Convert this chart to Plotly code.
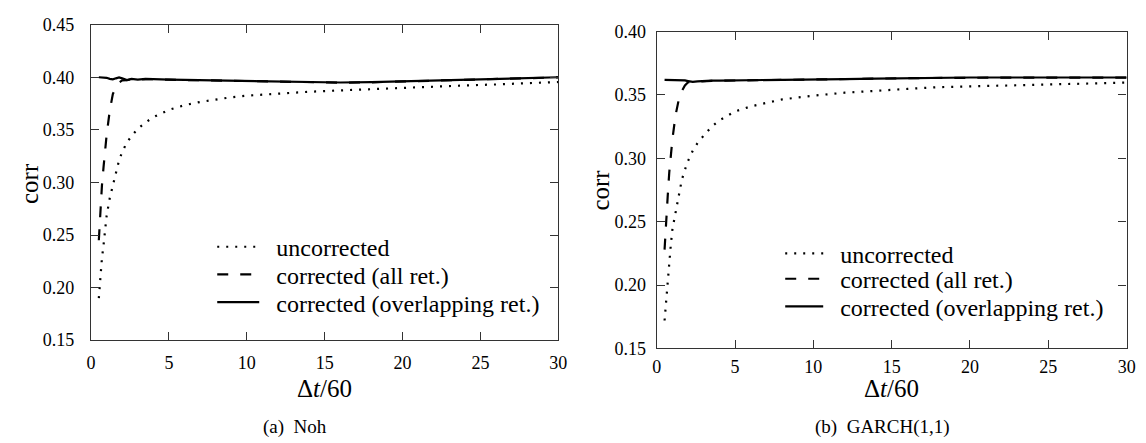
import plotly.graph_objects as go

# ---------------- data ----------------
x_dt = [0.5, 0.6, 0.7, 0.8, 0.9, 1.0, 1.2, 1.4, 1.6, 1.8, 2.0, 2.3, 2.6, 3.0, 3.5,
        4, 5, 6, 7, 8, 9, 10, 12, 14, 16, 18, 20, 22, 24, 26, 28, 30]

# (a) Noh
noh_uncorrected = [0.190, 0.212, 0.228, 0.240, 0.255, 0.268, 0.285, 0.298, 0.311, 0.321,
                   0.329, 0.338, 0.344, 0.351, 0.357, 0.362, 0.369, 0.3735, 0.3765, 0.379,
                   0.381, 0.3825, 0.3845, 0.3862, 0.3875, 0.3888, 0.3900, 0.3910, 0.3922,
                   0.3932, 0.3943, 0.3955]
noh_all_ret = [0.245, 0.275, 0.297, 0.314, 0.330, 0.345, 0.368, 0.384, 0.391, 0.395,
               0.397, 0.3972, 0.3982, 0.3976, 0.3983, 0.3979, 0.3977, 0.3974, 0.3971, 0.3969,
               0.3966, 0.3962, 0.3956, 0.3951, 0.3949, 0.3952, 0.3959, 0.3965, 0.3972,
               0.3979, 0.3989, 0.3999]
noh_overlap_ret = [0.4000, 0.4000, 0.4000, 0.4000, 0.4000, 0.3995, 0.3985, 0.3980, 0.3990,
                   0.3998, 0.3990, 0.3973, 0.3985, 0.3978, 0.3984, 0.3980, 0.3978, 0.3975,
                   0.3972, 0.3970, 0.3967, 0.3963, 0.3957, 0.3952, 0.3950, 0.3953, 0.3960,
                   0.3966, 0.3973, 0.3980, 0.3990, 0.4000]

# (b) GARCH(1,1)
garch_uncorrected = [0.172, 0.188, 0.206, 0.219, 0.232, 0.244, 0.258, 0.272, 0.283, 0.291,
                     0.298, 0.306, 0.312, 0.318, 0.325, 0.330, 0.337, 0.341, 0.344, 0.3465,
                     0.348, 0.3495, 0.3518, 0.3535, 0.3548, 0.3562, 0.3570, 0.3575, 0.3580,
                     0.3586, 0.3592, 0.3598]
garch_all_ret = [0.228, 0.254, 0.270, 0.289, 0.302, 0.315, 0.334, 0.346, 0.353, 0.3575,
                 0.3600, 0.3603, 0.3607, 0.3611, 0.3612, 0.3613, 0.3614, 0.3615, 0.3616,
                 0.3617, 0.3619, 0.3621, 0.3625, 0.3629, 0.3633, 0.3636, 0.3637, 0.3637,
                 0.3637, 0.3637, 0.3637, 0.3637]
garch_overlap_ret = [0.3620, 0.3620, 0.3620, 0.3620, 0.3620, 0.3620, 0.3620, 0.3620, 0.3618,
                     0.3615, 0.3610, 0.3603, 0.3608, 0.3612, 0.3613, 0.3614, 0.3615, 0.3616,
                     0.3617, 0.3618, 0.3620, 0.3622, 0.3626, 0.3630, 0.3634, 0.3637, 0.3638,
                     0.3638, 0.3638, 0.3638, 0.3638, 0.3638]

series_names = ["uncorrected", "corrected (all ret.)", "corrected (overlapping ret.)"]
x_ticks = [0, 5, 10, 15, 20, 25, 30]
noh_yticks = [0.15, 0.20, 0.25, 0.30, 0.35, 0.40, 0.45]
garch_yticks = [0.15, 0.20, 0.25, 0.30, 0.35, 0.40]

# ---------------- styling ----------------
W, H = 1146, 443
FONT = "Liberation Serif, Times New Roman, serif"
dashes = ["2px,7px", "11px,12px", "solid"]
pad = "\u2002"

fig = go.Figure()

left_legends = ["legend", "legend3", "legend4"]
right_legends = ["legend2", "legend5", "legend6"]


def add_panel(ys, xa, ya, legs):
    for y, name, d, lg in zip(ys, series_names, dashes, legs):
        fig.add_trace(go.Scatter(
            x=x_dt, y=y, mode="lines", name=pad + name,
            line=dict(color="black", width=2.2, dash=d),
            xaxis=xa, yaxis=ya, legend=lg, hoverinfo="skip"))


add_panel([noh_uncorrected, noh_all_ret, noh_overlap_ret], "x", "y", left_legends)
add_panel([garch_uncorrected, garch_all_ret, garch_overlap_ret], "x2", "y2", right_legends)

axis_common = dict(
    showline=True, linecolor="#333", linewidth=1.3, mirror="ticks",
    ticks="inside", ticklen=8, tickcolor="#333", tickwidth=1,
    showgrid=False, zeroline=False,
    tickfont=dict(family=FONT, size=18, color="black"),
)

L1, R1 = 79 / W, 552 / W
L2, R2 = 651.7 / W, 1127.4 / W
B1, T1 = 1 - 337.4 / H, 1 - 7 / H
B2, T2 = 1 - 346 / H, 1 - 14.3 / H


def legend_at(xpx, ypx, iw):
    return dict(x=xpx / W, y=1 - ypx / H, xanchor="left", yanchor="middle",
                bgcolor="rgba(0,0,0,0)", borderwidth=0, itemwidth=iw,
                font=dict(family=FONT, size=24, color="black"))


layout_legends = {}
for lg, row in zip(left_legends, [240, 269, 298]):
    layout_legends[lg] = legend_at(201.7, row, 42)
for lg, row in zip(right_legends, [247, 273.5, 302.5]):
    layout_legends[lg] = legend_at(776.7, row, 38)

fig.update_layout(
    width=W, height=H,
    margin=dict(l=0, r=0, t=0, b=0),
    paper_bgcolor="white", plot_bgcolor="white",
    xaxis=dict(domain=[L1, R1], range=[0, 30], tickvals=x_ticks,
               ticktext=[str(v) for v in x_ticks], anchor="y",
               ticklabelstandoff=6, **axis_common),
    yaxis=dict(domain=[B1, T1], range=[0.15, 0.45], tickvals=noh_yticks,
               ticktext=[f"{v:.2f}" for v in noh_yticks], anchor="x",
               ticklabelstandoff=12, **axis_common),
    xaxis2=dict(domain=[L2, R2], range=[0, 30], tickvals=x_ticks,
                ticktext=[str(v) for v in x_ticks], anchor="y2",
                ticklabelstandoff=2, **axis_common),
    yaxis2=dict(domain=[B2, T2], range=[0.15, 0.40], tickvals=garch_yticks,
                ticktext=[f"{v:.2f}" for v in garch_yticks], anchor="x2",
                ticklabelstandoff=6, **axis_common),
    showlegend=True,
    **layout_legends,
)

ann = dict(xref="paper", yref="paper", showarrow=False,
           font=dict(family=FONT, size=25, color="black"))
fig.add_annotation(text="\u0394<i>t</i>/60", x=315.5 / W, y=1 - 388 / H,
                   xanchor="center", yanchor="middle", **ann)
fig.add_annotation(text="\u0394<i>t</i>/60", x=889.5 / W, y=1 - 388 / H,
                   xanchor="center", yanchor="middle", **ann)
fig.add_annotation(text="corr", x=16 / W, y=1 - 173 / H, textangle=-90,
                   xanchor="center", yanchor="middle", **ann)
fig.add_annotation(text="corr", x=595 / W, y=1 - 180 / H, textangle=-90,
                   xanchor="center", yanchor="middle", **ann)
cap = dict(ann)
cap["font"] = dict(family=FONT, size=19, color="black")
fig.add_annotation(text="(a)\u2002Noh", x=285 / W, y=1 - 428 / H,
                   xanchor="center", yanchor="middle", **cap)
fig.add_annotation(text="(b)\u2002GARCH(1,1)", x=880.7 / W, y=1 - 428 / H,
                   xanchor="center", yanchor="middle", **cap)

fig.write_html("out.html")
